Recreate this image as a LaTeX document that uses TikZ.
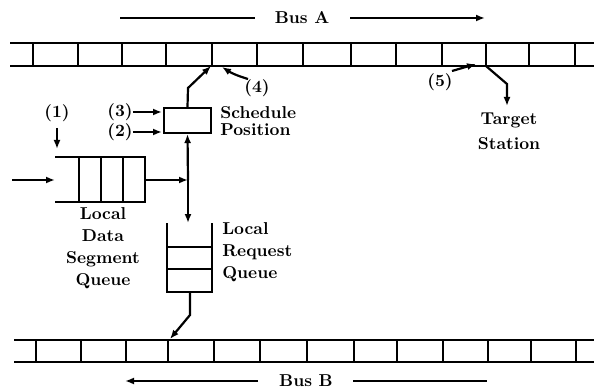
\documentclass[tikz,border=0pt]{standalone}
\usetikzlibrary{arrows.meta}
\begin{document}
\begin{tikzpicture}[x=1pt,y=-1pt,
  rail/.style={line width=2.6pt},
  divl/.style={line width=2.2pt},
  ln/.style={line width=2.2pt},
  arr/.style={line width=2.2pt,-{Latex[length=9pt,width=7pt]}},
  lbl/.style={font=\bfseries\fontsize{10}{12.8}\selectfont, inner sep=0pt, align=center, scale=1.72, transform shape}]
\useasboundingbox (0,0) rectangle (594,390);

% Bus A
\draw[rail] (10,43) -- (594,43);
\draw[rail] (10,66) -- (594,66);
\foreach \x in {33,78,122,166,212,257,303,351,396,442,486,529,575}
  \draw[divl] (\x,43) -- (\x,66);
% Bus B
\draw[rail] (14,340) -- (594,340);
\draw[rail] (14,362) -- (594,362);
\foreach \x in {36,81,126,168,214,260,307,354,397,443,488,531,576}
  \draw[divl] (\x,340) -- (\x,362);

% Bus labels
\node[lbl] (busA) at (302,18) {Bus A};
\coordinate (a1) at (120,18); \coordinate (a2) at (255,18);
\coordinate (a3) at (350,18); \coordinate (a4) at (485,18);
\draw[ln] (a1) -- (a2);
\draw[arr] (a3) -- (a4);
\node[lbl] (busB) at (306,381) {Bus B};
\coordinate (b1) at (258,381); \coordinate (b2) at (125,381);
\coordinate (b3) at (353,381); \coordinate (b4) at (487,381);
\draw[arr] (b1) -- (b2);
\draw[ln] (b3) -- (b4);

% Schedule box
\node[draw, line width=2.2pt, minimum width=47pt, minimum height=25pt, inner sep=0pt] (sched) at (187.5,120.5) {};
\node[lbl, anchor=west, align=left, font=\bfseries\fontsize{10}{10.2}\selectfont] (schedtxt) at (220,121) {Schedule\\Position};
\node[lbl] (n3) at (120,112) {(3)};
\node[lbl] (n2) at (120,132) {(2)};
\coordinate (t3) at (162,112); \coordinate (t2) at (162,132);
\draw[arr] (n3.east) -- (t3);
\draw[arr] (n2.east) -- (t2);

% schedule to bus A
\coordinate (s1) at (188,88); \coordinate (s2) at (211,66);
\draw[arr] (sched.north) -- (s1) -- (s2);
\node[lbl] (n4) at (257,88) {(4)};
\coordinate (n4t) at (248,79); \coordinate (n4h) at (222,67);
\draw[arr] (n4t) to[bend left=8] (n4h);

% Data segment queue
\coordinate (q1) at (55,157); \coordinate (q2) at (145,157);
\coordinate (q3) at (145,202); \coordinate (q4) at (55,202);
\draw[ln] (q1) -- (q2) -- (q3) -- (q4);
\foreach \x in {79,101,123} \draw[divl] (\x,157) -- (\x,202);
\coordinate (in0) at (12,180); \coordinate (in1) at (55,180);
\draw[arr] (in0) -- (in1);
\node[lbl] (n1) at (57,113) {(1)};
\coordinate (n1a) at (57,128); \coordinate (n1b) at (57,149);
\draw[arr] (n1a) -- (n1b);
\node[lbl] (dq) at (103,248) {Local\\Data\\Segment\\Queue};

% junction
\coordinate (qout) at (145,180);
\coordinate (j) at (188,180);
\draw[arr] (qout) -- (j);
\draw[arr] (j) -- (sched.south);
\coordinate (rqtop) at (188,223);
\draw[arr] (j) -- (rqtop);

% Request queue
\coordinate (r1) at (167,223); \coordinate (r2) at (167,292);
\coordinate (r3) at (212,292); \coordinate (r4) at (212,223);
\draw[ln] (r1) -- (r2) -- (r3) -- (r4);
\foreach \y in {247,269} \draw[divl] (167,\y) -- (212,\y);
\node[lbl, anchor=west, align=left] (rq) at (222,252) {Local\\Request\\Queue};
\coordinate (ro0) at (190,292); \coordinate (ro1) at (190,315);
\coordinate (ro2) at (170,339);
\draw[arr] (ro0) -- (ro1) -- (ro2);

% Target station
\coordinate (ts0) at (486,66); \coordinate (ts1) at (507,84);
\coordinate (ts2) at (507,106);
\draw[arr] (ts0) -- (ts1) -- (ts2);
\node[lbl, font=\bfseries\fontsize{10}{14.5}\selectfont] (target) at (509,131) {Target\\Station};
\node[lbl] (n5) at (440,82) {(5)};
\coordinate (n5t) at (452,71); \coordinate (n5h) at (476,64);
\draw[arr] (n5t) -- (n5h);
\end{tikzpicture}
\end{document}
